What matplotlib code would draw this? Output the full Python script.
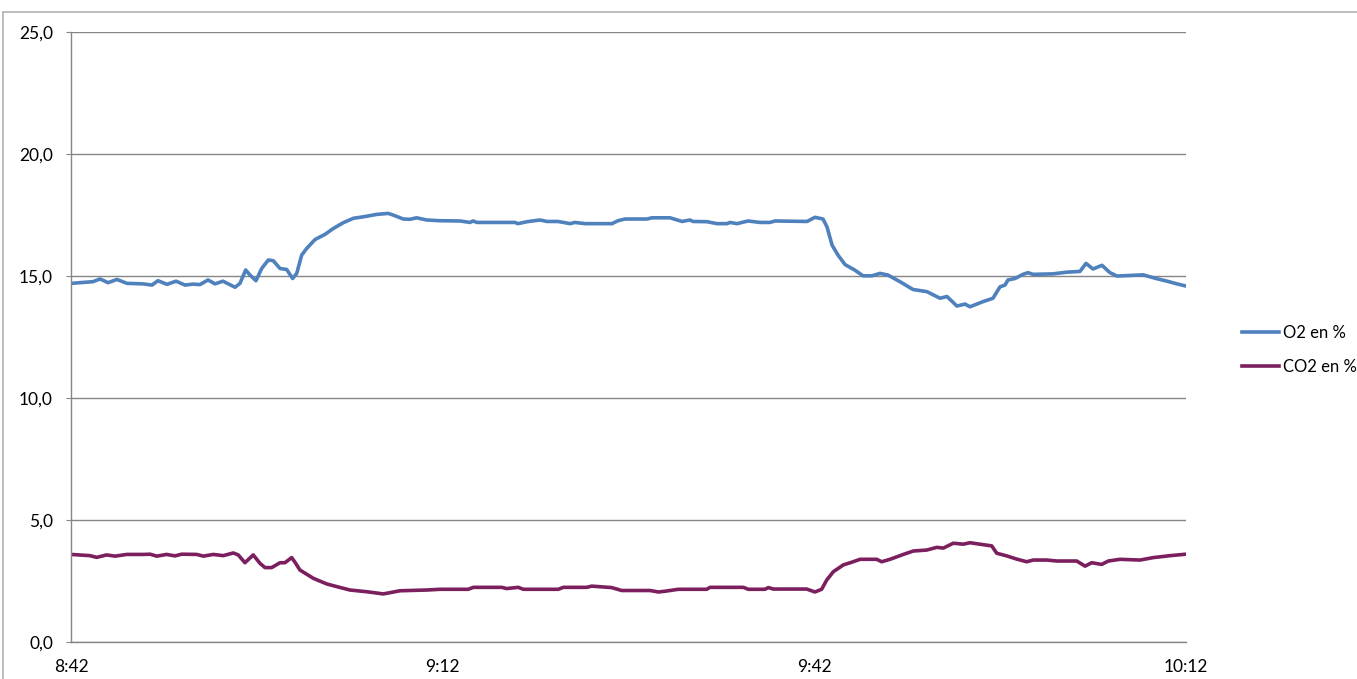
import matplotlib.pyplot as plt
from matplotlib.lines import Line2D
from matplotlib.ticker import FuncFormatter, MultipleLocator

# minutes after 8:42 and gas levels in %
t_o2 = [0.0, 1.78, 2.34, 2.99, 3.71, 4.52, 5.81, 6.54, 7.02, 7.75, 8.48, 9.20,
        9.85, 10.41, 11.06, 11.62, 12.27, 13.24, 13.64, 14.10, 14.45, 14.93,
        15.39, 15.93, 16.33, 16.87, 17.41, 17.89, 18.22, 18.62, 19.02, 19.70,
        20.50, 21.17, 21.98, 22.79, 23.59, 24.68, 25.61, 26.02, 26.82, 27.36,
        27.90, 28.71, 29.78, 31.40, 32.21, 32.45, 32.77, 35.84, 36.08, 36.81,
        37.86, 38.42, 39.31, 40.28, 40.68, 41.49, 43.67, 44.15, 44.72, 46.49,
        46.90, 48.35, 49.32, 49.96, 50.21, 51.34, 52.14, 52.95, 53.19, 53.76,
        54.65, 55.61, 56.42, 56.83, 59.41, 60.05, 60.70, 61.02, 61.43, 61.91,
        62.48, 63.28, 63.93, 64.65, 65.30, 65.94, 66.91, 67.96, 69.09, 70.14,
        70.71, 71.51, 72.16, 72.56, 73.61, 74.42, 74.99, 75.39, 75.63, 76.20,
        76.84, 77.25, 77.65, 79.26, 80.39, 81.44, 81.93, 82.49, 83.22, 83.86,
        84.43, 86.53, 87.66, 88.47, 89.27, 90.0]
o2 = [14.70, 14.77, 14.88, 14.73, 14.86, 14.70, 14.68, 14.63, 14.81, 14.66,
      14.79, 14.63, 14.67, 14.65, 14.84, 14.68, 14.79, 14.54, 14.70, 15.25,
      15.04, 14.81, 15.31, 15.66, 15.63, 15.31, 15.27, 14.90, 15.11, 15.86,
      16.13, 16.50, 16.71, 16.95, 17.19, 17.37, 17.43, 17.53, 17.57, 17.50,
      17.34, 17.33, 17.39, 17.30, 17.27, 17.26, 17.20, 17.26, 17.20, 17.20,
      17.15, 17.23, 17.30, 17.24, 17.24, 17.15, 17.20, 17.15, 17.15, 17.27,
      17.34, 17.34, 17.39, 17.39, 17.24, 17.30, 17.24, 17.23, 17.15, 17.15,
      17.20, 17.15, 17.26, 17.20, 17.20, 17.26, 17.24, 17.41, 17.34, 17.02,
      16.27, 15.86, 15.47, 15.24, 15.01, 15.01, 15.11, 15.04, 14.77, 14.45,
      14.36, 14.09, 14.16, 13.77, 13.85, 13.74, 13.95, 14.09, 14.56, 14.63,
      14.84, 14.90, 15.07, 15.14, 15.07, 15.09, 15.16, 15.19, 15.52, 15.29,
      15.44, 15.14, 15.00, 15.05, 14.89, 14.79, 14.68, 14.59]

t_co2 = [0.0, 1.53, 2.07, 2.88, 3.55, 4.50, 5.84, 6.38, 6.92, 7.72, 8.39, 8.94,
         10.15, 10.68, 11.49, 12.29, 13.10, 13.50, 14.04, 14.71, 15.26, 15.66,
         16.20, 16.87, 17.27, 17.81, 18.08, 18.48, 19.56, 20.64, 21.45, 22.52,
         23.87, 25.21, 26.56, 28.71, 29.78, 32.07, 32.47, 34.76, 35.17, 36.10,
         36.51, 39.33, 39.74, 41.63, 42.03, 43.64, 44.45, 46.74, 47.41, 47.95,
         49.02, 51.31, 51.58, 54.27, 54.67, 56.02, 56.29, 56.69, 59.38, 60.05,
         60.59, 61.00, 61.53, 62.34, 63.02, 63.69, 65.03, 65.44, 66.11, 67.18,
         67.99, 69.07, 69.88, 70.41, 71.22, 72.02, 72.56, 73.37, 74.32, 74.72,
         75.53, 76.33, 77.14, 77.67, 78.76, 79.56, 81.18, 81.85, 82.39, 83.19,
         83.73, 84.67, 86.29, 87.36, 88.72, 90.0]
co2 = [3.58, 3.53, 3.46, 3.56, 3.51, 3.58, 3.58, 3.59, 3.51, 3.58, 3.52, 3.59,
       3.58, 3.51, 3.58, 3.53, 3.64, 3.56, 3.24, 3.56, 3.21, 3.04, 3.04, 3.24,
       3.24, 3.45, 3.26, 2.94, 2.60, 2.37, 2.26, 2.12, 2.05, 1.96, 2.09, 2.12,
       2.15, 2.15, 2.23, 2.23, 2.18, 2.23, 2.15, 2.15, 2.23, 2.23, 2.28, 2.22,
       2.10, 2.10, 2.04, 2.07, 2.15, 2.15, 2.23, 2.23, 2.15, 2.15, 2.22, 2.16,
       2.16, 2.04, 2.15, 2.53, 2.87, 3.15, 3.26, 3.38, 3.38, 3.28, 3.38, 3.58,
       3.72, 3.76, 3.87, 3.84, 4.04, 4.00, 4.06, 4.00, 3.93, 3.63, 3.52, 3.39,
       3.28, 3.35, 3.35, 3.31, 3.31, 3.10, 3.24, 3.17, 3.31, 3.38, 3.35, 3.45,
       3.53, 3.59]

start_min = 8 * 60 + 42
grid_col = '#868686'
fs = 12.5

plt.rcParams['font.family'] = ['Lato', 'DejaVu Sans']

fig = plt.figure(figsize=(13.57, 6.79), dpi=100)
ax = fig.add_axes([71 / 1357, 1 - 641.7 / 679, 1115 / 1357, 609.4 / 679])

ax.plot(t_o2, o2, color='#4F81BD', lw=2.6, label='O2 en %', solid_joinstyle='round')
ax.plot(t_co2, co2, color='#7B1F5E', lw=2.6, label='CO2 en %', solid_joinstyle='round')

ax.set_xlim(0, 90)
ax.set_ylim(0, 25)
ax.yaxis.set_major_locator(MultipleLocator(5))
ax.xaxis.set_major_locator(MultipleLocator(30))
ax.yaxis.set_major_formatter(FuncFormatter(lambda v, p: f'{v:.1f}'.replace('.', ',')))
ax.xaxis.set_major_formatter(FuncFormatter(
    lambda v, p: f'{int(start_min + v) // 60}:{int(start_min + v) % 60:02d}'))

ax.grid(axis='y', color=grid_col, lw=1)
ax.set_axisbelow(True)
for side in ('top', 'right'):
    ax.spines[side].set_visible(False)
for side in ('left', 'bottom'):
    ax.spines[side].set_color(grid_col)
    ax.spines[side].set_linewidth(1)
ax.tick_params(axis='y', length=3.6, color=grid_col, pad=9.4, labelsize=fs)
ax.tick_params(axis='x', length=0, pad=12.5, labelsize=fs)

leg = ax.legend(loc='center left', bbox_to_anchor=(1234 / 1357, 1 - 350 / 679),
                bbox_transform=fig.transFigure, frameon=False, fontsize=12,
                handlelength=2.2, handletextpad=0.25, labelspacing=1.05, borderpad=0)

# chart area border
fig.add_artist(Line2D([3 / 1357, 3 / 1357], [0, 1 - 11.7 / 679], color='#B3B3B3', lw=1.2))
fig.add_artist(Line2D([3 / 1357, 1], [1 - 11.7 / 679, 1 - 11.7 / 679], color='#B3B3B3', lw=1.2))

fig.savefig('out.png', dpi=100)
